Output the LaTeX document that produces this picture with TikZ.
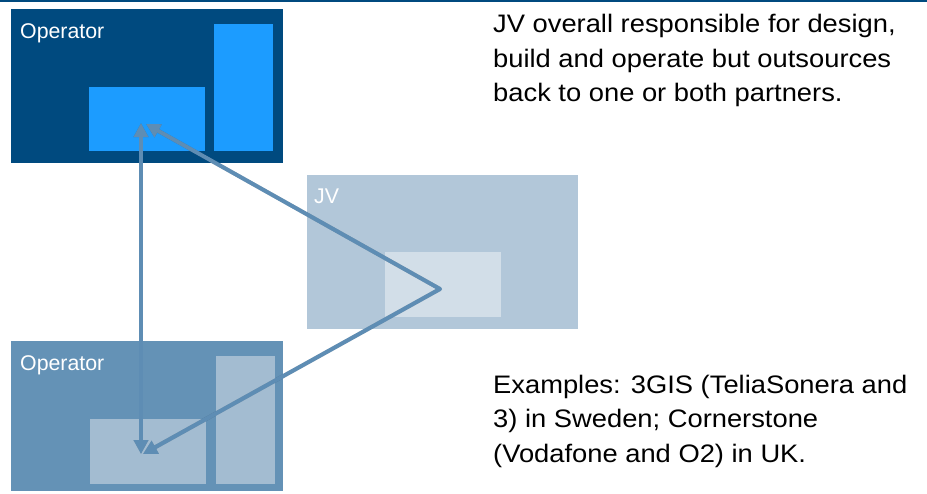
\documentclass[tikz,border=0pt]{standalone}
\usepackage{fontspec}
\setmainfont{Liberation Sans}
\newfontfamily\bodyfont[FakeStretch=1.08]{Liberation Sans}
\usetikzlibrary{arrows.meta}

\definecolor{opdark}{HTML}{004A7F}
\definecolor{opbright}{HTML}{1C9CFF}
\definecolor{opmid}{HTML}{6492B6}
\definecolor{opmidlight}{HTML}{A3BCD1}
\definecolor{jvbox}{HTML}{B2C7D9}
\definecolor{jvinner}{HTML}{D2DEE8}
\definecolor{linkcol}{HTML}{5E8DB4}

\tikzset{
  block/.style={draw=none, rectangle, inner sep=0pt, anchor=north west},
  boxlabel/.style={anchor=base west, inner sep=0pt, text=white, font=\fontsize{21.3}{25}\selectfont},
  bodytext/.style={anchor=north west, inner sep=0pt, align=left, text=black,
    font=\bodyfont\fontsize{25.3}{34.5}\selectfont},
  link/.style={draw=linkcol, line width=4pt,
    arrows={Triangle[length=14pt,width=14pt]-Triangle[length=14pt,width=14pt]}},
  linkshadow/.style={draw=black, opacity=0.2, line width=4pt,
    arrows={Triangle[length=14pt,width=14pt]-Triangle[length=14pt,width=14pt]}}
}

\begin{document}
\begin{tikzpicture}[x=1pt,y=-1pt]
  \useasboundingbox (0,0) rectangle (927,493);

  % top rule
  \fill[opdark] (0,0) rectangle (927,2);

  % upper operator
  \node[block, fill=opdark, minimum width=272pt, minimum height=154pt] (opTop) at (11,9) {};
  \node[block, fill=opbright, minimum width=116pt, minimum height=64pt] (opTopIn) at (89,87) {};
  \node[block, fill=opbright, minimum width=59pt, minimum height=127pt] (opTopBar) at (214,24) {};
  \node[boxlabel] (opTopLbl) at (20,38) {Operator};

  % joint venture
  \node[block, fill=jvbox, minimum width=271pt, minimum height=154pt] (jv) at (307,175) {};
  \node[block, fill=jvinner, minimum width=116pt, minimum height=65pt] (jvIn) at (385,252) {};
  \node[boxlabel] (jvLbl) at (314,203) {JV};

  % lower operator
  \node[block, fill=opmid, minimum width=272pt, minimum height=150pt] (opBot) at (11,341) {};
  \node[block, fill=opmidlight, minimum width=116pt, minimum height=65pt] (opBotIn) at (90,419) {};
  \node[block, fill=opmidlight, minimum width=59pt, minimum height=128pt] (opBotBar) at (216,356) {};
  \node[boxlabel] (opBotLbl) at (20,370) {Operator};

  % link end points
  \coordinate (apex) at (440,289);
  \coordinate (vTop) at (141,123);
  \coordinate (vBot) at (141,454);
  \coordinate (dTop) at (146,124);
  \coordinate (dBot) at (143,454);

  % soft drop shadows of the links
  \begin{scope}[shift={(1.5,1.8)}]
    \path[linkshadow] (vTop) -- (vBot);
    \path[linkshadow, line join=round] (dTop) -- (apex) -- (dBot);
  \end{scope}

  % links
  \path[link] (vTop) -- (vBot);
  \path[link, line join=round] (dTop) -- (apex) -- (dBot);

  % descriptions
  \node[bodytext] (descTop) at (493,14.1) {JV overall responsible for design,\\build and operate but outsources\\back to one or both partners.};
  \node[bodytext] (descBot) at (493,374.6) {Examples: 3GIS (TeliaSonera and\\3) in Sweden; Cornerstone\\(Vodafone and O2) in UK.};
\end{tikzpicture}
\end{document}
